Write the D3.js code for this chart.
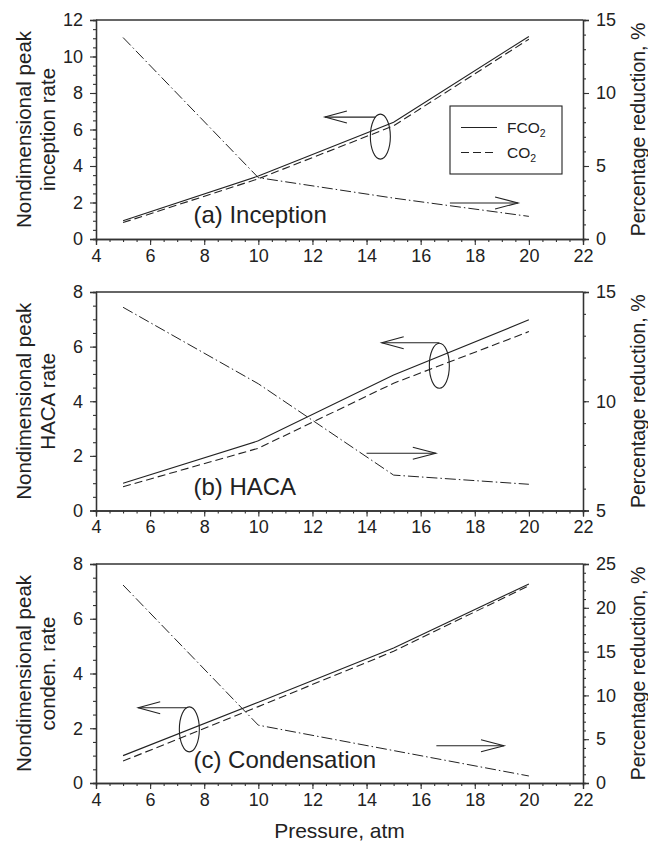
<!DOCTYPE html>
<html>
<head>
<meta charset="utf-8">
<script src="https://cdn.jsdelivr.net/npm/d3@7"></script>
<style>
  html, body { margin: 0; padding: 0; background: #fff; }
  svg text { font-family: "Liberation Sans", Arial, Helvetica, sans-serif; fill: #222; }
</style>
</head>
<body>
<svg id="chart" width="648" height="842"></svg>
<script>
// Pressure levels (atm)
const pressure = [5, 10, 15, 20];

// (a) soot inception
const inceptionFCO2 = [1.0, 3.45, 6.4, 11.1];
const inceptionCO2 = [0.9, 3.3, 6.2, 10.95];
const inceptionReduction = [13.8, 4.2, 2.8, 1.55];

// (b) HACA surface growth
const hacaFCO2 = [1.0, 2.55, 4.96, 6.98];
const hacaCO2 = [0.87, 2.28, 4.66, 6.55];
const hacaReduction = [14.3, 10.8, 6.62, 6.2];

// (c) PAH condensation
const condFCO2 = [1.0, 2.95, 4.93, 7.27];
const condCO2 = [0.8, 2.79, 4.81, 7.21];
const condReduction = [22.6, 6.6, 3.7, 0.8];

// Axis ticks
const xTicks = [4, 6, 8, 10, 12, 14, 16, 18, 20, 22];
const leftTicksA = [0, 2, 4, 6, 8, 10, 12];
const leftTicksBC = [0, 2, 4, 6, 8];
const rightTicksA = [0, 5, 10, 15];
const rightTicksB = [5, 10, 15];
const rightTicksC = [0, 5, 10, 15, 20, 25];

const seriesNames = ["FCO", "CO"];

const panels = [
  {
    label: "(a) Inception", titleLines: ["Nondimensional peak", "inception rate"],
    fco2: inceptionFCO2, co2: inceptionCO2, red: inceptionReduction,
    left: [0, 12], leftTicks: leftTicksA, right: [0, 15], rightTicks: rightTicksA,
    top: 20, bottom: 239, legend: true,
    labelPos: [7.6, 0.85],
    leftArrow: { tip: [12.46, 6.68], ell: [14.51, 5.61] },
    rightArrow: { tail: 17.08, tip: [19.6, 2.47] }
  },
  {
    label: "(b) HACA", titleLines: ["Nondimensional peak", "HACA rate"],
    fco2: hacaFCO2, co2: hacaCO2, red: hacaReduction,
    left: [0, 8], leftTicks: leftTicksBC, right: [5, 15], rightTicks: rightTicksB,
    top: 292, bottom: 510.5, legend: false,
    labelPos: [7.6, 0.55],
    leftArrow: { tip: [14.56, 6.14], ell: [16.69, 5.3] },
    rightArrow: { tail: 14.0, tip: [16.56, 7.62] }
  },
  {
    label: "(c) Condensation", titleLines: ["Nondimensional peak", "conden. rate"],
    fco2: condFCO2, co2: condCO2, red: condReduction,
    left: [0, 8], leftTicks: leftTicksBC, right: [0, 25], rightTicks: rightTicksC,
    top: 564, bottom: 783, legend: false,
    labelPos: [7.6, 0.55],
    leftArrow: { tip: [5.56, 2.75], ell: [7.45, 1.96] },
    rightArrow: { tail: 16.58, tip: [19.08, 4.26] }
  }
];

const svg = d3.select("#chart");
const X0 = 96, X1 = 583;
const ink = "#222";
const axisInk = "#333";

function range(a, b, step) {
  const out = [];
  for (let v = a; v <= b + 1e-9; v += step) out.push(+v.toFixed(4));
  return out;
}

panels.forEach((p) => {
  const g = svg.append("g");
  const x = d3.scaleLinear().domain([4, 22]).range([X0, X1]);
  const yL = d3.scaleLinear().domain(p.left).range([p.bottom, p.top]);
  const yR = d3.scaleLinear().domain(p.right).range([p.bottom, p.top]);

  // frame top
  g.append("line").attr("x1", X0).attr("x2", X1).attr("y1", p.top).attr("y2", p.top)
    .attr("stroke", axisInk).attr("stroke-width", 1.3);

  // axes with minor ticks
  const styleAxis = (sel) => {
    sel.selectAll("path.domain").attr("stroke", axisInk).attr("stroke-width", 1.3);
    sel.selectAll("line").attr("stroke", axisInk).attr("stroke-width", 1.1);
    sel.selectAll("text").style("font-size", "18px").attr("fill", ink);
  };

  const xMinor = g.append("g").attr("transform", `translate(0,${p.bottom})`)
    .call(d3.axisBottom(x).tickValues(range(4, 22, 0.5)).tickSize(3).tickFormat(""));
  styleAxis(xMinor);
  const xMajor = g.append("g").attr("transform", `translate(0,${p.bottom})`)
    .call(d3.axisBottom(x).tickValues(xTicks).tickSize(6).tickPadding(4).tickFormat(d3.format("d")));
  styleAxis(xMajor);

  const lMinor = g.append("g").attr("transform", `translate(${X0},0)`)
    .call(d3.axisLeft(yL).tickValues(range(p.left[0], p.left[1], 0.5)).tickSize(3).tickFormat(""));
  styleAxis(lMinor);
  const lMajor = g.append("g").attr("transform", `translate(${X0},0)`)
    .call(d3.axisLeft(yL).tickValues(p.leftTicks).tickSize(6).tickPadding(7).tickFormat(d3.format("d")));
  styleAxis(lMajor);

  const rMinor = g.append("g").attr("transform", `translate(${X1},0)`)
    .call(d3.axisRight(yR).tickValues(range(p.right[0], p.right[1], 1)).tickSize(3).tickFormat(""));
  styleAxis(rMinor);
  const rMajor = g.append("g").attr("transform", `translate(${X1},0)`)
    .call(d3.axisRight(yR).tickValues(p.rightTicks).tickSize(6).tickPadding(7).tickFormat(d3.format("d")));
  styleAxis(rMajor);

  // axis titles
  const midY = (p.top + p.bottom) / 2;
  p.titleLines.forEach((t, k) => {
    g.append("text").attr("transform", `translate(${31 + k * 24},${midY}) rotate(-90)`)
      .attr("text-anchor", "middle")
      .style("font-size", "20.5px").text(t);
  });
  g.append("text").attr("transform", `translate(${645},${midY}) rotate(-90)`)
    .attr("text-anchor", "middle")
    .style("font-size", "19.5px").text("Percentage reduction, %");

  // series lines
  const lineL = d3.line().x((d, j) => x(pressure[j])).y(d => yL(d));
  const lineR = d3.line().x((d, j) => x(pressure[j])).y(d => yR(d));
  g.append("path").attr("d", lineL(p.fco2)).attr("fill", "none")
    .attr("stroke", ink).attr("stroke-width", 1.1);
  g.append("path").attr("d", lineL(p.co2)).attr("fill", "none")
    .attr("stroke", ink).attr("stroke-width", 1.1).attr("stroke-dasharray", "8,4");
  g.append("path").attr("d", lineR(p.red)).attr("fill", "none")
    .attr("stroke", ink).attr("stroke-width", 1.0).attr("stroke-dasharray", "11,3,1.5,3");

  // panel label
  g.append("text").attr("x", x(p.labelPos[0])).attr("y", yL(p.labelPos[1]))
    .style("font-size", "24px").text(p.label);

  // left-pointing arrow with ellipse grouping the two rate curves
  const la = p.leftArrow;
  const ex = x(la.ell[0]), ey = yL(la.ell[1]);
  const rx = 10, ry = 22.5;
  g.append("ellipse").attr("cx", ex).attr("cy", ey).attr("rx", rx).attr("ry", ry)
    .attr("fill", "none").attr("stroke", ink).attr("stroke-width", 1.1);
  const tx = x(la.tip[0]), ty = yL(la.tip[1]);
  const dy = (ty - ey) / ry;
  const shaftEnd = ex - rx * Math.sqrt(Math.max(0, 1 - dy * dy));
  g.append("line").attr("x1", tx).attr("y1", ty).attr("x2", shaftEnd).attr("y2", ty)
    .attr("stroke", ink).attr("stroke-width", 1.1);
  g.append("path").attr("d", `M${tx + 22},${ty - 6}L${tx},${ty}L${tx + 22},${ty + 6}`)
    .attr("fill", "none").attr("stroke", ink).attr("stroke-width", 1.1);

  // right-pointing arrow toward the reduction axis
  const ra = p.rightArrow;
  const rtx = x(ra.tip[0]), rty = yR(ra.tip[1]);
  g.append("line").attr("x1", x(ra.tail)).attr("y1", rty).attr("x2", rtx).attr("y2", rty)
    .attr("stroke", ink).attr("stroke-width", 1.1);
  g.append("path").attr("d", `M${rtx - 23},${rty - 6}L${rtx},${rty}L${rtx - 23},${rty + 6}`)
    .attr("fill", "none").attr("stroke", ink).attr("stroke-width", 1.1);

  // legend
  if (p.legend) {
    const lg = g.append("g");
    lg.append("rect").attr("x", 450).attr("y", 106).attr("width", 112).attr("height", 68)
      .attr("fill", "#fff").attr("stroke", ink).attr("stroke-width", 1.1);
    seriesNames.forEach((name, k) => {
      const yy = 127.5 + k * 25;
      lg.append("line").attr("x1", 461).attr("x2", 497).attr("y1", yy).attr("y2", yy)
        .attr("stroke", ink).attr("stroke-width", 1.1)
        .attr("stroke-dasharray", k === 0 ? null : "8,4");
      const t = lg.append("text").attr("x", 507).attr("y", yy + 5.5)
        .style("font-size", "15.5px");
      t.append("tspan").text(name);
      t.append("tspan").attr("dy", 4).style("font-size", "10.5px").text("2");
    });
  }
});

// shared x-axis title
svg.append("text").attr("x", (X0 + X1) / 2).attr("y", 838)
  .attr("text-anchor", "middle")
  .style("font-size", "21px").text("Pressure, atm");
</script>
</body>
</html>
